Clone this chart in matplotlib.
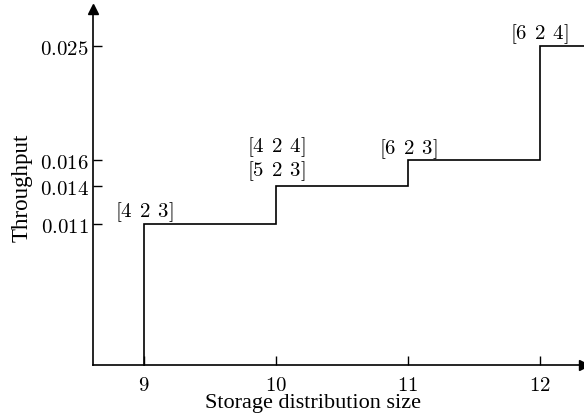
import matplotlib
matplotlib.use("Agg")
import matplotlib.pyplot as plt

plt.rcParams['mathtext.fontset'] = 'cm'
plt.rcParams['axes.unicode_minus'] = False

sizes = [9, 10, 11, 12]
throughput = [0.011, 0.014, 0.016, 0.025]
config_labels = [["[4 2 3]"], ["[4 2 4]", "[5 2 3]"], ["[6 2 3]"], ["[6 2 4]"]]
xtick_vals = [9, 10, 11, 12]
ytick_vals = [0.011, 0.014, 0.016, 0.025]
ytick_labels = ["0.011", "0.014", "0.016", "0.025"]

fig = plt.figure(figsize=(5.84, 4.14), dpi=100)
ax = fig.add_axes([93/584, 1-366/414, 1-93/584, (366-10)/414])
xmin, xmax = 8.614, 12.335
ymin, ymax = -0.0001, 0.0279
ax.set_xlim(xmin, xmax)
ax.set_ylim(ymin, ymax)

# step line
xs = [sizes[0]]
ys = [ymin]
for i, (s, t) in enumerate(zip(sizes, throughput)):
    xs += [s, s]
    ys += [ys[-1], t]
    nxt = sizes[i+1] if i+1 < len(sizes) else xmax
    xs.append(nxt)
    ys.append(t)
ax.plot(xs, ys, color='black', lw=1.2, clip_on=False, solid_joinstyle='miter')

# labels
FS = 15
def mt(lab):
    return r'$\mathrm{' + lab.replace(' ', r'\:\:') + '}$'

for s, t, labs in zip(sizes, throughput, config_labels):
    n = len(labs)
    base = 0.5 if n == 1 else 3.0
    ax.annotate('\n'.join(mt(l) for l in labs), xy=(s, t),
                xytext=(0, base), textcoords='offset points',
                ha='center', va='bottom', fontsize=FS, linespacing=1.0,
                multialignment='center')

for sp in ['top', 'right']:
    ax.spines[sp].set_visible(False)
for sp in ['left', 'bottom']:
    ax.spines[sp].set_linewidth(1.2)

ax.set_xticks(xtick_vals)
ax.set_xticklabels([r'$%d$' % v for v in xtick_vals], fontsize=FS)
ax.set_yticks(ytick_vals)
ax.set_yticklabels([r'$%s$' % l for l in ytick_labels], fontsize=FS)
ax.tick_params(direction='in', length=6.5, width=1.0)
ax.tick_params(axis='y', pad=3)
ax.tick_params(axis='x', pad=6.5)

ax.plot(1, 0, '>k', transform=ax.transAxes, clip_on=False, markersize=7)
ax.plot(0, 1, '^k', transform=ax.transAxes, clip_on=False, markersize=7)

ax.set_xlabel('Storage distribution size', fontsize=16, family='Liberation Serif', va='bottom')
ax.xaxis.set_label_coords(0.449, (0.8 - 48) / 356)
ax.set_ylabel('Throughput', fontsize=16.5, family='Liberation Serif', labelpad=5)

fig.savefig('out.png', dpi=100)
